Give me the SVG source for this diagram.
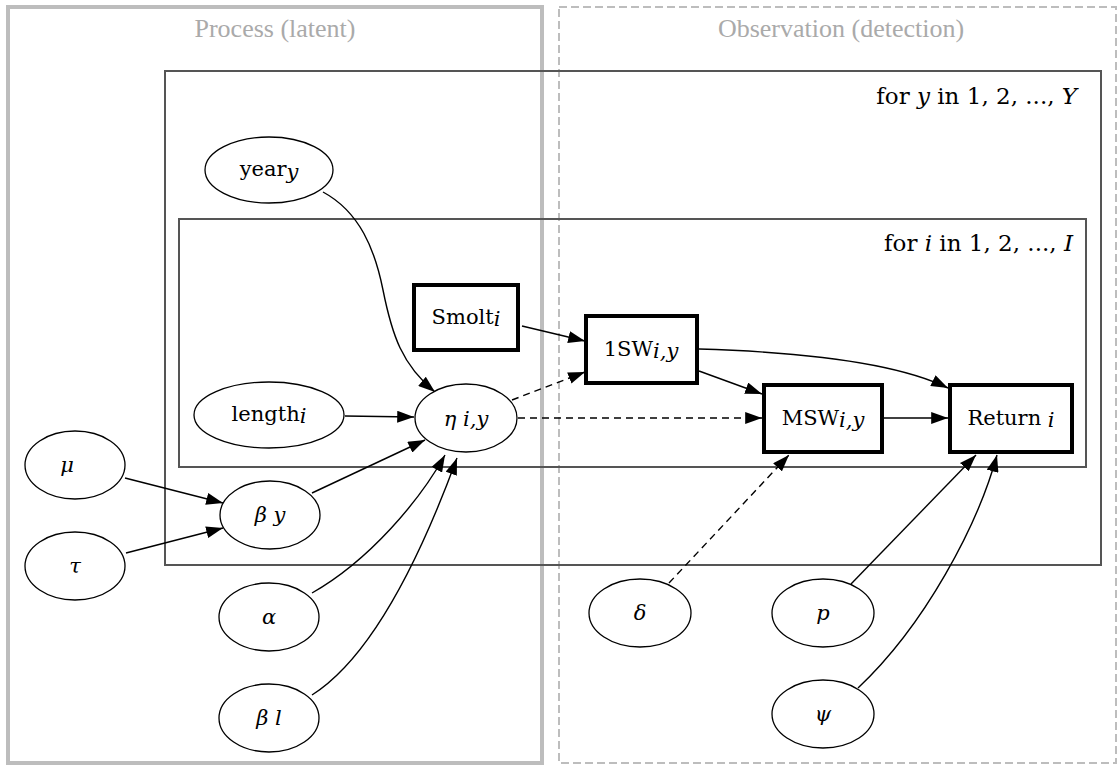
<svg xmlns="http://www.w3.org/2000/svg" width="1119" height="765" viewBox="0 0 1119 765">
<defs>
<style>
.bg{fill:#fff}
.proc{fill:none;stroke:#bdbdbd;stroke-width:4}
.obs{fill:none;stroke:#bdbdbd;stroke-width:2;stroke-dasharray:8 4}
.plate{fill:none;stroke:#555;stroke-width:2}
.title{font-family:"Liberation Serif",serif;font-size:26px;fill:#aaa;text-anchor:middle}
.plabel{font-family:"DejaVu Serif",serif;font-size:23px;fill:#000;text-anchor:end}
.ell{fill:#fff;stroke:#000;stroke-width:1.3}
.box{fill:#fff;stroke:#000;stroke-width:4}
.lbl{font-family:"DejaVu Serif",serif;font-size:21px;fill:#000;text-anchor:middle}
.it{font-style:italic}
.e{fill:none;stroke:#000;stroke-width:1.4}
.d{stroke-dasharray:7 5}
</style>
<marker id="ah" viewBox="0 0 14 10" refX="14" refY="5" markerWidth="17" markerHeight="12" markerUnits="userSpaceOnUse" orient="auto">
<path d="M0,0 L14,5 L0,10 z" fill="#000" stroke="none"/>
</marker>
</defs>
<rect class="bg" x="0" y="0" width="1119" height="765"/>
<g id="clusters">
<rect class="proc" x="8" y="7" width="534" height="756"/>
<rect class="obs" x="559" y="7" width="557" height="756"/>
<text class="title" x="275" y="37">Process (latent)</text>
<text class="title" x="841" y="37">Observation (detection)</text>
</g>
<g id="plates">
<rect class="plate" x="165" y="71" width="936" height="494"/>
<text class="plabel" x="1077" y="104">for <tspan class="it">y</tspan> in 1, 2, ..., <tspan class="it">Y</tspan></text>
<rect class="plate" x="179" y="219" width="907" height="248"/>
<text class="plabel" x="1073" y="251">for <tspan class="it">i</tspan> in 1, 2, ..., <tspan class="it">I</tspan></text>
</g>
<g id="connectors">
<path class="e" d="M323,192 C360,212 375,250 383,290 C392,335 402,365 435,392" marker-end="url(#ah)"/>
<path class="e" d="M345,416 L414,417" marker-end="url(#ah)"/>
<path class="e" d="M522,326 L585,341" marker-end="url(#ah)"/>
<path class="e d" d="M512,400 L585,372" marker-end="url(#ah)"/>
<path class="e d" d="M518,418 L762,418" marker-end="url(#ah)"/>
<path class="e" d="M699,371 L762,394" marker-end="url(#ah)"/>
<path class="e" d="M699,349 C800,352 895,362 948,388" marker-end="url(#ah)"/>
<path class="e" d="M884,418 L948,418" marker-end="url(#ah)"/>
<path class="e" d="M125,478 L223,503" marker-end="url(#ah)"/>
<path class="e" d="M126,553 L223,528" marker-end="url(#ah)"/>
<path class="e" d="M312,493 L425,440" marker-end="url(#ah)"/>
<path class="e" d="M312,593 C370,560 420,500 445,455" marker-end="url(#ah)"/>
<path class="e" d="M312,695 C375,655 425,545 457,458" marker-end="url(#ah)"/>
<path class="e d" d="M669,583 L789,455" marker-end="url(#ah)"/>
<path class="e" d="M851,584 L976,455" marker-end="url(#ah)"/>
<path class="e" d="M858,688 C925,625 978,525 997,455" marker-end="url(#ah)"/>
</g>
<g id="node-year">
<ellipse class="ell" cx="269" cy="170" rx="64" ry="33"/>
<text class="lbl" x="269" y="176">year<tspan class="it" dy="3">y</tspan></text>
</g>
<g id="node-length">
<ellipse class="ell" cx="269" cy="415" rx="75" ry="33"/>
<text class="lbl" x="269" y="421">length<tspan class="it" dy="2">i</tspan></text>
</g>
<g id="node-smolt">
<rect class="box" x="414" y="285" width="104" height="65"/>
<text class="lbl" x="466" y="324">Smolt<tspan class="it" dy="2">i</tspan></text>
</g>
<g id="node-eta">
<ellipse class="ell" cx="466" cy="418" rx="51" ry="34"/>
<text class="lbl it" x="466" y="426">η i,y</text>
</g>
<g id="node-1sw">
<rect class="box" x="586" y="316" width="111" height="67"/>
<text class="lbl" x="641" y="356">1SW<tspan class="it" dy="2">i,y</tspan></text>
</g>
<g id="node-msw">
<rect class="box" x="764" y="385" width="118" height="67"/>
<text class="lbl" x="823" y="425">MSW<tspan class="it" dy="2">i,y</tspan></text>
</g>
<g id="node-return">
<rect class="box" x="950" y="385" width="122" height="67"/>
<text class="lbl" x="1011" y="425">Return <tspan class="it" dy="2">i</tspan></text>
</g>
<g id="node-mu">
<ellipse class="ell" cx="75" cy="465" rx="50" ry="34"/>
<text class="lbl it" x="67" y="472">μ</text>
</g>
<g id="node-tau">
<ellipse class="ell" cx="75" cy="566" rx="50" ry="34"/>
<text class="lbl it" x="75" y="573">τ</text>
</g>
<g id="node-beta-y">
<ellipse class="ell" cx="270" cy="515" rx="50" ry="34"/>
<text class="lbl it" x="270" y="522">β y</text>
</g>
<g id="node-alpha">
<ellipse class="ell" cx="269" cy="617" rx="50" ry="34"/>
<text class="lbl it" x="269" y="624">α</text>
</g>
<g id="node-beta-l">
<ellipse class="ell" cx="269" cy="718" rx="50" ry="34"/>
<text class="lbl it" x="269" y="725">β l</text>
</g>
<g id="node-delta">
<ellipse class="ell" cx="640" cy="613" rx="51" ry="34"/>
<text class="lbl it" x="640" y="620">δ</text>
</g>
<g id="node-p">
<ellipse class="ell" cx="823" cy="613" rx="51" ry="34"/>
<text class="lbl it" x="823" y="620">p</text>
</g>
<g id="node-psi">
<ellipse class="ell" cx="823" cy="714" rx="51" ry="34"/>
<text class="lbl it" x="823" y="721">ψ</text>
</g>
</svg>
